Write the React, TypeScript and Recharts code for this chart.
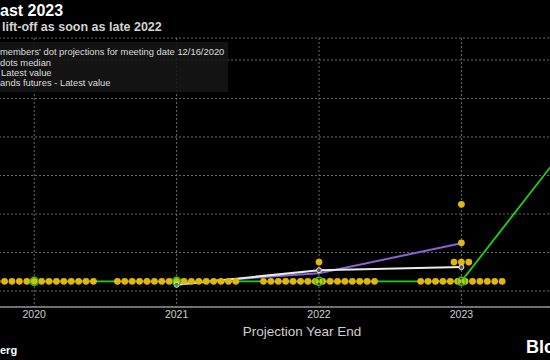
import React from 'react'
import { ComposedChart, Scatter, Line, XAxis, YAxis, CartesianGrid, Label } from 'recharts'

const years = [2020, 2021, 2022, 2023]
const longerRun = 2024 // longer-run column, sits past the right edge of the crop

// FOMC dot plot 12/16/2020: number of members at each rate, per year
const dotRates = [0.125, 0.375, 0.625, 1.125]
const dotCounts = [
  [17, 0, 0, 0],
  [17, 0, 0, 0],
  [16, 1, 0, 0],
  [12, 3, 1, 1],
]

const medianYears = [2020, 2021, 2022, 2023, longerRun]
const medianValues = [0.125, 0.125, 0.125, 0.125, 2.5]

const marketYears = [2021, 2022, 2023]
const whiteValues = [0.08, 0.27, 0.31]
const purpleValues = [0.1, 0.23, 0.62]

const yTicks = [0, 0.5, 1, 1.5, 2, 2.5, 3]

// dots at the same rate are spread sideways, one step apart (in years)
const DOT_STEP = 0.052

const dots = years.flatMap((yr, i) =>
  dotRates.flatMap((rate, j) => {
    const n = dotCounts[i][j]
    return Array.from({ length: n }, (_, k) => ({ x: yr + (k - (n - 1) / 2) * DOT_STEP, y: rate }))
  })
)
const median = medianYears.map((x, i) => ({ x, y: medianValues[i] }))
const whiteLine = marketYears.map((x, i) => ({ x, y: whiteValues[i] }))
const purpleLine = marketYears.map((x, i) => ({ x, y: purpleValues[i] }))

const font = '"Liberation Sans", Arial, sans-serif'

const Dot = (props: any) => <circle cx={props.cx} cy={props.cy} r={3.4} fill="#e2b60c" />

const App = () => {
  return (
    <div style={{ position: 'fixed', left: 0, top: 0, width: 550, height: 360, overflow: 'hidden', background: '#000', fontFamily: font }}>
      <div style={{ position: 'absolute', left: -37.5, top: 0 }}>
        <ComposedChart width={712} height={360} margin={{ top: 38, right: 0, bottom: 0, left: 0 }}>
          <CartesianGrid stroke="#6a6a6a" strokeDasharray="2 2" />
          <XAxis
            dataKey="x"
            type="number"
            domain={[2019.5, 2024.5]}
            ticks={years}
            height={53}
            tickLine={false}
            tickSize={0}
            tickMargin={4}
            axisLine={{ stroke: '#8c8c8c', strokeWidth: 1.5 }}
            tick={{ fill: '#cfcfcf', fontSize: 10.5, fontFamily: font }}
            allowDataOverflow
          >
            <Label value="Projection Year End" position="insideBottom" offset={24} dx={-17} fill="#cfcfcf" fontSize={13.5} fontFamily={font} />
          </XAxis>
          <YAxis type="number" dataKey="y" domain={[-0.208, 3.286]} ticks={yTicks} hide allowDataOverflow />
          <Scatter data={dots} shape={Dot} isAnimationActive={false} />
          <Line
            data={purpleLine}
            dataKey="y"
            stroke="#8b62d6"
            strokeWidth={2}
            dot={false}
            isAnimationActive={false}
          />
          <Line
            data={whiteLine}
            dataKey="y"
            stroke="#ececec"
            strokeWidth={2}
            dot={{ r: 2.5, stroke: '#ececec', strokeWidth: 1, fill: '#555' }}
            isAnimationActive={false}
          />
          <Line
            data={median}
            dataKey="y"
            stroke="#19d219"
            strokeWidth={1.8}
            dot={{ r: 4, stroke: '#19d219', strokeWidth: 1.5, fill: 'none' }}
            isAnimationActive={false}
          />
        </ComposedChart>
      </div>
      <svg width={550} height={360} style={{ position: 'absolute', left: 0, top: 0, pointerEvents: 'none' }} fontFamily={font}>
        <text x={0} y={15.5} fontSize={16} fontWeight="bold" fill="#fff">ast 2023</text>
        <text x={2} y={30.5} fontSize={12.5} fontWeight="bold" fill="#d2d2d2">lift-off as soon as late 2022</text>
        <rect x={0} y={42} width={228} height={50} fill="#161616" fillOpacity={0.88} />
        <text x={0} y={55.3} fontSize={9.4} fill="#dcdcdc">members' dot projections for meeting date 12/16/2020</text>
        <text x={0} y={65.6} fontSize={9.4} fill="#dcdcdc">dots median</text>
        <text x={1} y={76} fontSize={9.4} fill="#dcdcdc">Latest value</text>
        <text x={0} y={86} fontSize={9.4} fill="#dcdcdc">ands futures - Latest value</text>
        <text x={0} y={354} fontSize={11} fontWeight="bold" fill="#fff">erg</text>
        <text x={526} y={353} fontSize={18} fontWeight="bold" fill="#fff">Blo</text>
      </svg>
    </div>
  )
}

export default App
